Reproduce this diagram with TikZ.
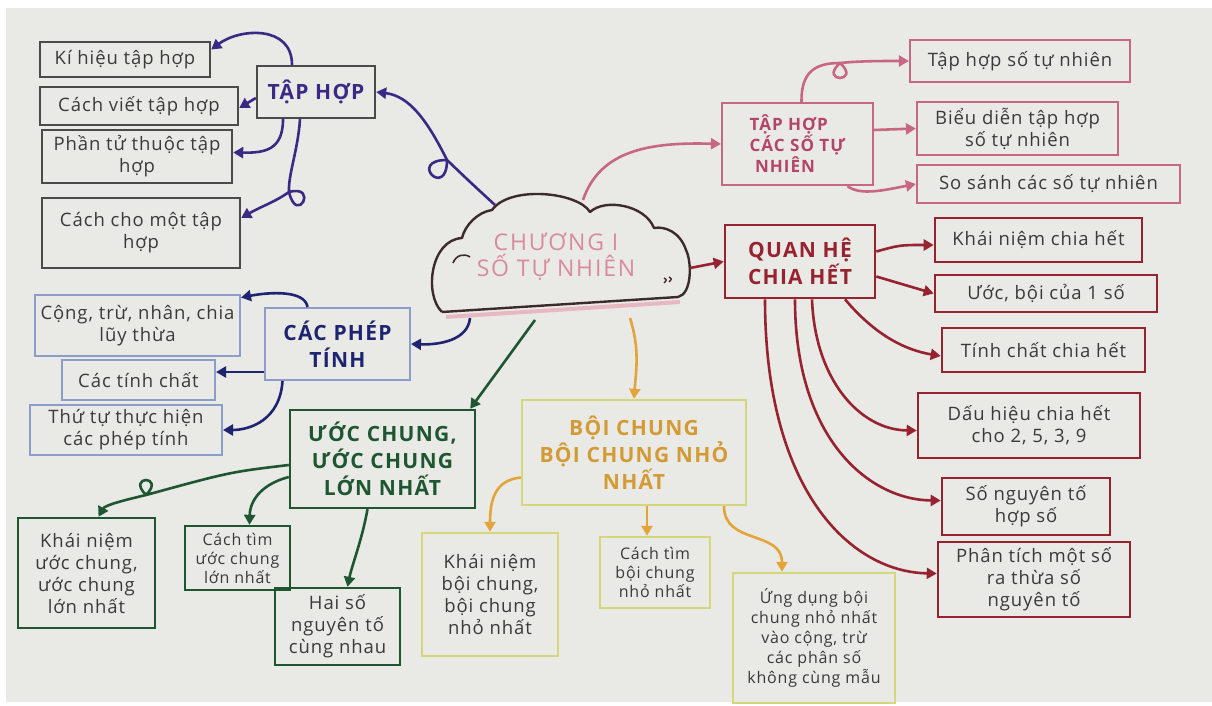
\documentclass[tikz,border=0pt]{standalone}
\usepackage{fontspec}
\setmainfont{Open Sans}
\newfontfamily\handf[LetterSpace=5]{Open Sans}
\newfontfamily\headf[LetterSpace=6]{Open Sans}
\newfontfamily\cloudf[LetterSpace=8]{Open Sans}
\usetikzlibrary{arrows.meta}
\definecolor{paper}{HTML}{E9E9E6}
\definecolor{txt}{HTML}{3A3A3A}
\definecolor{gboxc}{HTML}{4A4A4A}
\definecolor{purp}{HTML}{3B2A85}
\definecolor{bluebox}{HTML}{8C9CCB}
\definecolor{navy}{HTML}{1F2470}
\definecolor{grn}{HTML}{1E5631}
\definecolor{yboxc}{HTML}{D6D77A}
\definecolor{orng}{HTML}{D39B35}
\definecolor{orarr}{HTML}{E3A53A}
\definecolor{pinkb}{HTML}{C86782}
\definecolor{pinkt}{HTML}{B4456A}
\definecolor{dred}{HTML}{96232F}
\definecolor{cloudl}{HTML}{3B2B2B}
\definecolor{cloudt}{HTML}{D98B9C}
\definecolor{pshadow}{HTML}{E8B8C2}
\newcommand\smtxt{\handf\fontsize{18.5}{22}\selectfont}
\newcommand\midtxt{\handf\fontsize{16}{19}\selectfont}
\newcommand\hdtxt{\headf\bfseries\fontsize{21}{27}\selectfont}
\tikzset{
  bx/.style={draw, line width=2.4pt, align=center, inner sep=2pt, text=txt, font=\smtxt},
  gbox/.style={bx, draw=gboxc},
  bbox/.style={bx, draw=bluebox, line width=2pt},
  grbox/.style={bx, draw=grn},
  ybox/.style={bx, draw=yboxc},
  pbox/.style={bx, draw=pinkb, line width=2.2pt},
  rbox/.style={bx, draw=dred, line width=2.6pt},
  arr/.style={line width=2.6pt, line join=round, -{Triangle[length=10pt,width=11pt]}},
  parr/.style={arr, draw=purp},
  narr/.style={arr, draw=navy},
  garr/.style={arr, draw=grn},
  oarr/.style={arr, draw=orarr},
  pkarr/.style={arr, draw=pinkb},
  rarr/.style={arr, draw=dred},
}
\begin{document}
\begin{tikzpicture}[x=1pt,y=-1pt]
\useasboundingbox (0,0) rectangle (1212,706);
\fill[white] (0,0) rectangle (1212,706);
\fill[paper] (6,8) rectangle (1212,702);

% ---------- cloud ----------
\draw[pshadow, line width=4pt] (446,317) -- (680,302);
\draw[cloudl, line width=2.4pt, line join=round]
  (442,312) -- (678,297) .. controls (692,294) and (692,262) .. (686,250)
  .. controls (680,232) and (665,226) .. (654,228)
  .. controls (645,205) and (605,198) .. (590,212)
  .. controls (578,192) and (510,185) .. (492,210)
  .. controls (478,212) and (465,225) .. (462,238)
  .. controls (430,240) and (424,295) .. (442,312);
\draw[cloudl, line width=1.6pt] (453,263) .. controls (456,255) and (464,253) .. (470,257);
\draw[cloudl, line width=1.4pt] (664,278) .. controls (667,280) .. (664,283);
\draw[cloudl, line width=1.4pt] (669,277) .. controls (672,279) .. (669,282);
\node[text=cloudt, align=center, font=\cloudf\fontsize{23}{26}\selectfont] (cloud) at (556,257) {CHƯƠNG I\\SỐ TỰ NHIÊN};
\coordinate (cTap) at (495,205);
\coordinate (cPhep) at (470,318);
\coordinate (cUoc) at (535,320);
\coordinate (cBoi) at (630,318);
\coordinate (cTN) at (583,200);
\coordinate (cQH) at (690,268);

% ---------- TAP HOP (gray) ----------
\node[gbox, minimum width=118pt, minimum height=52pt, text=purp, font=\hdtxt] (tap) at (316,92) {TẬP HỢP};
\node[gbox, minimum width=170pt, minimum height=35pt] (kh) at (125,59.5) {Kí hiệu tập hợp};
\node[gbox, minimum width=198pt, minimum height=38pt] (cv) at (139,106) {Cách viết tập hợp};
\node[gbox, minimum width=190pt, minimum height=53pt] (pt) at (137,156.5) {Phần tử thuộc tập\\hợp};
\node[gbox, minimum width=198pt, minimum height=70pt] (cc) at (141,233) {Cách cho một tập\\hợp};

\draw[parr] (cTap) .. controls (470,182) .. (447,160)
  .. controls (447,200) and (407,160) .. (447,160)
  .. controls (428,122) and (410,96) .. (tap.east);
\draw[parr] ([xshift=-24pt]tap.north) .. controls (292,25) and (240,28) .. ([yshift=10pt]kh.east);
\draw[parr] ([yshift=-6pt]tap.west) -- ([yshift=-2pt]cv.east);
\draw[parr] ([xshift=-33pt]tap.south) .. controls (283,150) and (265,153) .. ([yshift=4pt]pt.east);
\draw[parr] ([xshift=-16pt]tap.south) .. controls (298,150) and (288,175) .. (289,192)
  .. controls (319,184) and (297,226) .. (289,192)
  .. controls (275,202) and (260,207) .. ([yshift=15pt]cc.east);

% ---------- CAC PHEP TINH (blue) ----------
\node[bbox, minimum width=145pt, minimum height=72pt, text=navy, font=\hdtxt] (cpt) at (337.5,344) {CÁC PHÉP\\TÍNH};
\node[bbox, minimum width=205pt, minimum height=61pt] (cong) at (137.5,325.5) {Cộng, trừ, nhân, chia\\lũy thừa};
\node[bbox, minimum width=153pt, minimum height=40pt] (tc) at (138.5,380) {Các tính chất};
\node[bbox, minimum width=192pt, minimum height=50pt] (tt) at (126,430) {Thứ tự thực hiện\\các phép tính};

\draw[narr] (cPhep) .. controls (468,340) and (440,345) .. (cpt.east);
\draw[narr] ([xshift=-30pt]cpt.north) .. controls (305,290) and (270,292) .. ([yshift=28pt]cong.east);
\draw[narr] ([yshift=-28pt]cpt.west) -- ([yshift=8pt]tc.east);
\draw[narr] ([xshift=-55pt]cpt.south) .. controls (280,420) and (250,430) .. (tt.east);

% ---------- UOC CHUNG (green) ----------
\node[grbox, minimum width=185pt, minimum height=98pt, text=grn, font=\hdtxt] (uc) at (382.5,459) {ƯỚC CHUNG,\\ƯỚC CHUNG\\LỚN NHẤT};
\node[grbox, minimum width=137pt, minimum height=110pt] (kn1) at (86.5,573) {Khái niệm\\ước chung,\\ước chung\\lớn nhất};
\node[grbox, minimum width=105pt, minimum height=64pt, font=\midtxt] (ct1) at (237.5,558) {Cách tìm\\ước chung\\lớn nhất};
\node[grbox, minimum width=125pt, minimum height=77pt] (hai) at (337.5,626.5) {Hai số\\nguyên tố\\cùng nhau};

\draw[garr] (cUoc) -- ([xshift=-6pt]uc.north east);
\draw[garr] ([yshift=-6pt]uc.west) .. controls (230,472) .. (146,495)
  .. controls (126,475) and (166,475) .. (146,495)
  .. controls (125,500) and (105,505) .. ([xshift=12pt]kn1.north);
\draw[garr] ([yshift=-18pt]uc.west) .. controls (262,484) and (250,500) .. ([xshift=12pt]ct1.north);
\draw[garr] ([xshift=-15pt]uc.south) .. controls (362,540) and (352,565) .. ([xshift=10pt]hai.north);

% ---------- BOI CHUNG (yellow) ----------
\node[ybox, minimum width=224pt, minimum height=105pt, text=orng, font=\hdtxt] (bc) at (634,452.5) {BỘI CHUNG\\BỘI CHUNG NHỎ\\NHẤT};
\node[ybox, minimum width=136pt, minimum height=123pt] (kn2) at (490,594.5) {Khái niệm\\bội chung,\\bội chung\\nhỏ nhất};
\node[ybox, minimum width=110pt, minimum height=71pt, font=\midtxt] (ct2) at (655,572.5) {Cách tìm\\bội chung\\nhỏ nhất};
\node[ybox, minimum width=162pt, minimum height=130pt, font=\handf\fontsize{16}{20}\selectfont] (ud) at (814,638) {Ứng dụng bội\\chung nhỏ nhất\\vào cộng, trừ\\các phân số\\không cùng mẫu};

\draw[oarr] (cBoi) .. controls (640,350) and (636,370) .. (bc.north);
\draw[oarr] ([yshift=-25pt]bc.west) .. controls (495,480) and (490,500) .. (kn2.north);
\draw[oarr] ([xshift=13pt]bc.south) -- ([xshift=-8pt]ct2.north);
\draw[oarr] ([xshift=90pt]bc.south) .. controls (724,545) and (782,530) .. ([xshift=-32pt]ud.north);

% ---------- TAP HOP CAC SO TU NHIEN (pink) ----------
\node[pbox, minimum width=151pt, minimum height=82pt, text=pinkt, align=left, font=\headf\bfseries\fontsize{17}{21}\selectfont] (ths) at (797.5,144) {TẬP HỢP\\CÁC SỐ TỰ\\\ NHIÊN};
\node[pbox, minimum width=220pt, minimum height=42pt] (t1) at (1020,61) {Tập hợp số tự nhiên};
\node[pbox, minimum width=201pt, minimum height=53pt] (t2) at (1017.5,128.5) {Biểu diễn tập hợp\\số tự nhiên};
\node[pbox, minimum width=263pt, minimum height=38pt] (t3) at (1048.5,184) {So sánh các số tự nhiên};

\draw[pkarr] (cTN) .. controls (600,150) and (650,142) .. (ths.west);
\draw[pkarr] ([xshift=4pt]ths.north) .. controls (801,72) and (815,63) .. (840,63)
  .. controls (818,83) and (862,83) .. (840,63)
  .. controls (860,61) and (880,61) .. (t1.west);
\draw[pkarr] ([yshift=14pt]ths.east) -- (t2.west);
\draw[pkarr] ([xshift=50pt]ths.south) .. controls (860,196) and (885,190) .. (t3.west);

% ---------- QUAN HE CHIA HET (dark red) ----------
\node[rbox, minimum width=150pt, minimum height=73pt, text=dred, font=\hdtxt] (qh) at (800,261.5) {QUAN HỆ\\CHIA HẾT};
\node[rbox, minimum width=207pt, minimum height=44pt] (r1) at (1038.5,240) {Khái niệm chia hết};
\node[rbox, minimum width=222pt, minimum height=37pt] (r2) at (1046,293.5) {Ước, bội của 1 số};
\node[rbox, minimum width=203pt, minimum height=44pt] (r3) at (1043.5,350) {Tính chất chia hết};
\node[rbox, minimum width=222pt, minimum height=65pt] (r4) at (1029,425.5) {Dấu hiệu chia hết\\cho 2, 5, 3, 9};
\node[rbox, minimum width=168pt, minimum height=57pt] (r5) at (1026,506.5) {Số nguyên tố\\hợp số};
\node[rbox, minimum width=192pt, minimum height=75pt] (r6) at (1034,579.5) {Phân tích một số\\ra thừa số\\nguyên tố};

\draw[rarr] (cQH) -- (qh.west);
\draw[rarr] ([yshift=10pt]qh.east) .. controls (900,245) .. ([yshift=-5pt]r1.west);
\draw[rarr] ([yshift=-15pt]qh.east) .. controls (905,285) .. (r2.west);
\draw[rarr] ([xshift=45pt]qh.south) .. controls (875,335) and (905,350) .. ([yshift=-6pt]r3.west);
\draw[rarr] ([xshift=12pt]qh.south) .. controls (815,380) and (860,430) .. ([yshift=-5pt]r4.west);
\draw[rarr] ([xshift=-5pt]qh.south) .. controls (795,440) and (870,500) .. ([yshift=6pt]r5.west);
\draw[rarr] ([xshift=-35pt]qh.south) .. controls (765,490) and (850,572) .. ([yshift=6pt]r6.west);
\end{tikzpicture}
\end{document}
